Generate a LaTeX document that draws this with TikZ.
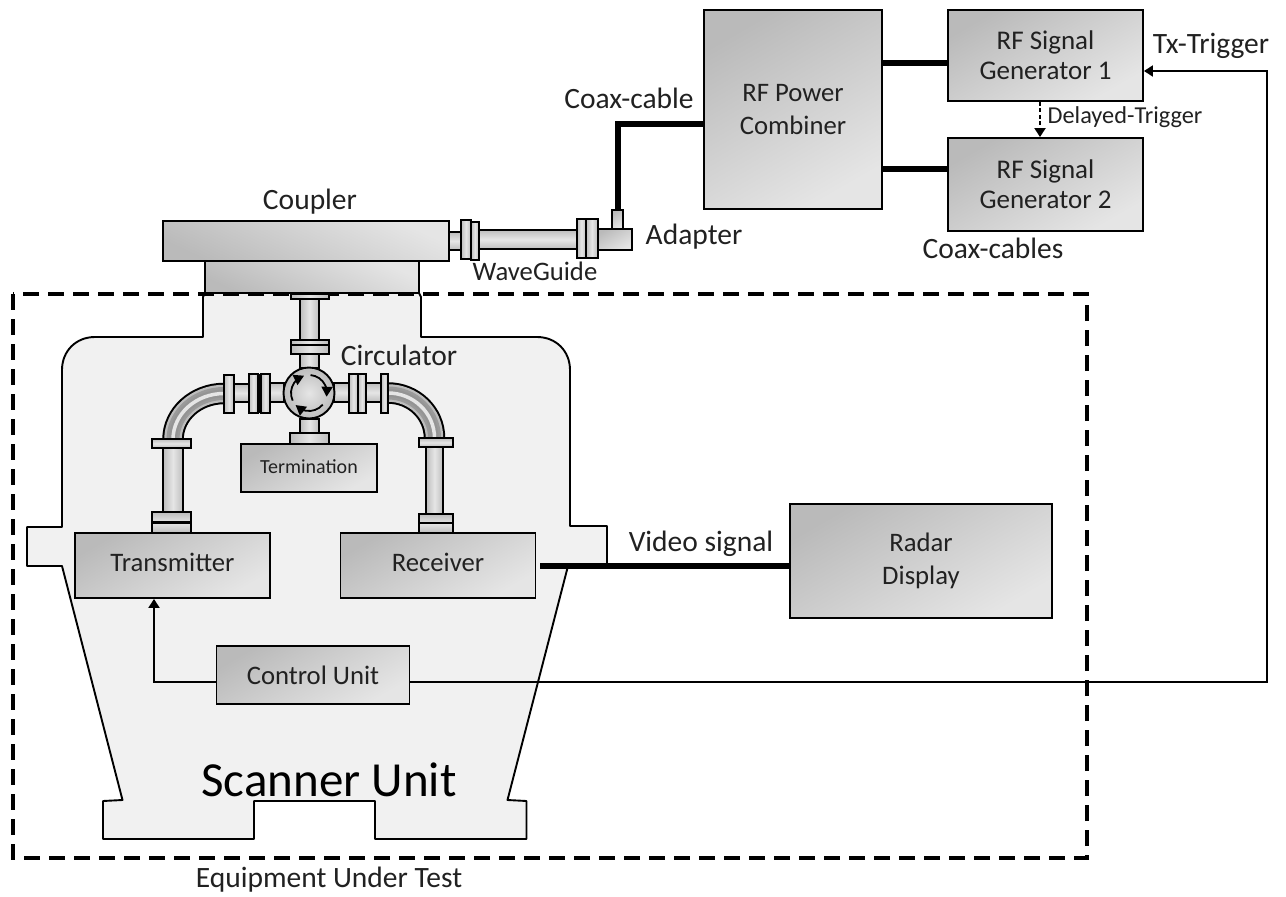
\documentclass[tikz,border=0pt]{standalone}
\usepackage{fontspec}
\setmainfont{Carlito}
\usetikzlibrary{arrows.meta,bending}
\definecolor{boxdark}{gray}{0.73}
\definecolor{boxlight}{gray}{0.90}
\definecolor{pipedark}{gray}{0.74}
\definecolor{pipelight}{gray}{0.90}
\definecolor{bodyfill}{gray}{0.945}
\definecolor{ink}{gray}{0.13}
\newcommand{\fs}[1]{\fontsize{#1}{\the\dimexpr#1pt*13/10\relax}\selectfont}
\newcommand{\up}[1]{\raisebox{7pt}{#1}}
\tikzset{
  x=1pt,y=-1pt,
  box/.style={draw=black,line width=1.9pt,inner sep=0pt,align=center,text=ink,
    top color=boxdark,bottom color=boxlight,shading angle=30},
  flipbox/.style={box,top color=boxdark,bottom color=boxlight,shading angle=155},
  lbl/.style={inner sep=0pt,text=ink,font=\fs{29.5}},
  vp/.style={draw=black,line width=1.9pt,left color=pipedark,right color=pipedark,middle color=pipelight},
  hp/.style={draw=black,line width=1.9pt,top color=pipedark,bottom color=pipedark,middle color=pipelight},
  coax/.style={line width=6pt,black},
  sigline/.style={line width=2pt,black},
  arrowed/.style={-{Triangle[length=9pt,width=11pt]}},
  fence/.style={line width=4pt,black,dash pattern=on 16pt off 9pt},
  swirl/.style={line width=1.8pt,black,-{Triangle[length=10pt,width=11pt,flex=0.6]}},
}
\newcommand{\elbowpath}[1]{
  \foreach \w/\c in {21.5/black,17.5/pipedark,13/gray!79,8/gray!84,3.5/pipelight}
    {\draw[line width=\w pt,color=\c] #1;}
}
\begin{document}
\begin{tikzpicture}
\useasboundingbox (0,0) rectangle (1286,897);
% scanner body
\draw[line width=1.9pt,fill=bodyfill,line join=round]
  (205,293) -- (419,293) -- (421,297) -- (421,337) -- (537,337)
  .. controls (556,337) and (570,351) .. (570,370) -- (570,526) -- (607,526) -- (607,566) -- (568,566)
  -- (507.5,800) -- (526.5,801) -- (526.5,839) -- (375,839) -- (375,801) -- (254,801) -- (254,839)
  -- (103,839) -- (103,801) -- (122.5,800) -- (62,566) -- (27,566) -- (27,527) -- (62,527) -- (62,370)
  .. controls (62,351) and (76,337) .. (95,337) -- (203,337) -- (203,297) -- cycle;
% equipment boundary
\draw[fence] (13,294) rectangle (1087,858);

% waveguide run on the coupler
\draw[hp] (449,232) rectangle (461,250);
\draw[hp] (478,230) rectangle (577,249);
\draw[vp] (461,220) rectangle (471,259);
\draw[vp] (471,222) rectangle (479,260);
\node[box,minimum width=35pt,minimum height=21pt] (adapter) at (614.5,239.5) {};
\node[box,minimum width=11pt,minimum height=19pt] (stub) at (617.5,219.5) {};
\draw[vp] (577,219) rectangle (586,258);
\draw[vp] (586,219) rectangle (598,258);

% vertical feed
\draw[vp] (300,298) rectangle (319,341);
\draw[vp] (291,294) rectangle (329,299);
\draw[vp] (300,354) rectangle (319,368);
\draw[vp] (291,340) rectangle (329,354);
\draw[line width=1.9pt] (291,345) -- (329,345);
\draw[vp] (300,419) rectangle (319,433);
\draw[vp] (290,433) rectangle (329,444);

% left arm
\elbowpath{(224,393.5) arc[start angle=90,end angle=180,x radius=51pt,y radius=46pt]}
\draw[hp] (258,383) rectangle (284,402);
\draw[hp] (234,384) rectangle (249,402);
\draw[vp] (224,375) rectangle (234,413);
\draw[vp] (249,374) rectangle (258,413);
\draw[vp] (261,374) rectangle (270,413);
\draw[line width=3pt] (259.5,374) -- (259.5,413);
\draw[vp] (163,448) rectangle (183,512);
\draw[hp] (152,439) rectangle (191,448);
\draw[hp] (152,512) rectangle (191,533);
\draw[line width=3pt] (152,522) -- (191,522);

% right arm
\elbowpath{(388,393) arc[start angle=90,end angle=0,x radius=46.5pt,y radius=45pt]}
\draw[hp] (334,383) rectangle (349,402);
\draw[hp] (366,383) rectangle (381,402);
\draw[vp] (349,374) rectangle (358,413);
\draw[vp] (358,374) rectangle (366,413);
\draw[vp] (381,374) rectangle (388,413);
\draw[vp] (426,447) rectangle (443,514);
\draw[hp] (419,438) rectangle (453,447);
\draw[hp] (419,514) rectangle (453,533);
\draw[line width=1.9pt] (419,523) -- (453,523);

% circulator
\node[circle,draw=black,line width=1.9pt,minimum size=51pt,inner sep=0pt,
  inner color=pipelight,outer color=pipedark] (circ) at (309,393) {};
\draw[swirl] ([shift={(205:18pt)}]circ.center) arc[start angle=205,end angle=106,radius=18pt];
\draw[swirl] ([shift={(85:18pt)}]circ.center) arc[start angle=85,end angle=-12,radius=18pt];
\draw[swirl] ([shift={(320:18pt)}]circ.center) arc[start angle=320,end angle=222,radius=18pt];

% boxes
\node[flipbox,minimum width=286pt,minimum height=40pt] (coupler) at (306,241) {};
\node[flipbox,minimum width=214pt,minimum height=32pt] (cbase) at (312,277) {};
\node[box,minimum width=136pt,minimum height=48pt,font=\fs{20}] (term) at (309,468) {\raisebox{2pt}{Termination}};
\node[box,minimum width=195pt,minimum height=65pt,font=\fs{26.7}] (tx) at (172.5,565.5) {\up{Transmitter}};
\node[box,minimum width=195pt,minimum height=65pt,font=\fs{26.7}] (rx) at (438,565.5) {\up{Receiver}};
\node[box,minimum width=193pt,minimum height=58pt,font=\fs{26.7}] (cu) at (313,675) {Control Unit};
\node[box,minimum width=262pt,minimum height=114pt,font=\fs{26.7}] (radar) at (921,561) {Radar\\[-2pt]Display};
\node[box,minimum width=178pt,minimum height=199pt,font=\fs{26.7}] (comb) at (793,109.5) {RF Power\\[-2pt]Combiner};
\node[box,minimum width=195pt,minimum height=91pt,font=\fs{27}] (gen1) at (1045.5,55.5) {RF Signal\\[-5pt]Generator 1};
\node[box,minimum width=195pt,minimum height=93pt,font=\fs{27}] (gen2) at (1045.5,184.5) {RF Signal\\[-5pt]Generator 2};

% connectors
\coordinate (ya) at (0,63);
\coordinate (yb) at (0,169);
\coordinate (yc) at (0,124);
\coordinate (yt) at (0,71);
\coordinate (yl) at (0,681.5);
\coordinate (xt) at (1267,0);
\coordinate (xa) at (154,0);
\coordinate (xd) at (1040,0);
\draw[coax] (comb.east |- ya) -- (gen1.west |- ya);
\draw[coax] (comb.east |- yb) -- (gen2.west |- yb);
\draw[coax] (comb.west |- yc) -| (stub.north);
\draw[coax] ([xshift=4pt]rx.east) -- (radar.west |- rx.east);
\draw[sigline,arrowed] (cu.west |- yl) -| (tx.south -| xa);
\draw[sigline,arrowed] (cu.east |- yl) -| (xt |- yt) -- (gen1.east |- yt);
\draw[sigline,dash pattern=on 4pt off 2.5pt,arrowed] (gen1.south -| xd) -- (gen2.north -| xd);

% labels
\node[lbl] (l1) at (310,202) {Coupler};
\node[lbl,font=\fs{26.7}] (l2) at (535,271) {WaveGuide};
\node[lbl] (l3) at (629,98) {Coax-cable};
\node[lbl] (l4) at (694,237) {Adapter};
\node[lbl] (l5) at (399,355) {Circulator};
\node[lbl] (l6) at (993,248) {Coax-cables};
\node[lbl] (l7) at (1211,46) {Tx-Trigger};
\node[lbl,font=\fs{24.3}] (l8) at (1125,117) {Delayed-Trigger};
\node[lbl] (l9) at (701,544) {Video signal};
\node[lbl] (l10) at (329,880) {Equipment Under Test};
\node[lbl,font=\fs{49},text=black] (l11) at (329,780) {Scanner Unit};
\end{tikzpicture}
\end{document}
